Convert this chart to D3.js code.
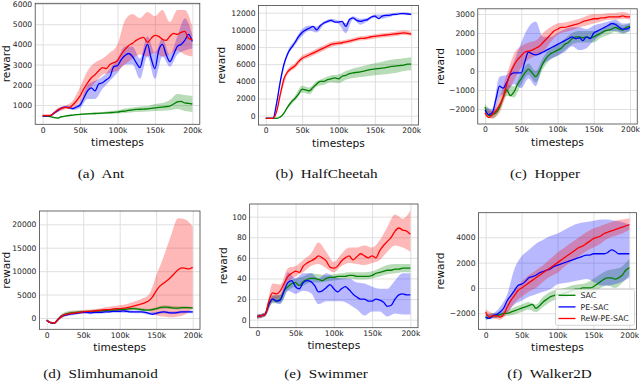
<!DOCTYPE html>
<html lang="en">
<head>
<meta charset="UTF-8">
<title>Reward curves</title>
<script src="https://d3js.org/d3.v7.min.js"></script>
<style>
  body { margin: 0; background: #fff; }
  svg { display: block; }
  .tick text { font-family: "DejaVu Sans", sans-serif; font-size: 7.6px; fill: #222; }
  .axis-title { font-family: "DejaVu Sans", sans-serif; font-size: 10.7px; fill: #111; }
  .caption { font-family: "Liberation Serif", "Times New Roman", serif; font-size: 13px; fill: #111; }
  .legend text { font-family: "DejaVu Sans", sans-serif; font-size: 7.8px; fill: #222; }
</style>
</head>
<body>
<svg id="chart" width="640" height="383"></svg>
<script>
// x positions in thousands of timesteps
const steps = [0,5,10,15,20,25,30,35,40,45,50,55,60,65,70,75,80,85,90,95,100,105,110,115,120,125,130,135,140,145,150,155,160,165,170,175,180,185,190,195,200];
const bandSteps = [0,10,20,30,40,50,60,70,80,90,100,110,120,130,140,150,160,170,180,190,200];
const xTicks = [0, 50, 100, 150, 200];

const seriesNames = ['SAC', 'PE-SAC', 'ReW-PE-SAC'];

// (a) Ant
const antSAC = [450,440,430,380,350,420,450,480,500,520,540,550,560,570,580,590,600,610,620,640,650,680,700,730,760,780,790,800,810,830,860,880,900,920,950,1050,1150,1180,1100,1080,1050];
const antSACLo = [430,410,320,420,470,510,520,530,550,560,580,600,640,650,680,700,720,740,800,700,650];
const antSACHi = [470,460,390,480,530,570,600,630,660,700,740,830,880,930,950,1050,1100,1250,1550,1500,1450];
const antPE = [450,460,470,600,720,850,900,880,820,900,1000,1350,1700,1850,1700,2050,2100,2250,2400,2900,2950,3250,3450,3550,3400,3100,2850,3500,4000,3300,2800,3700,4000,3500,3150,3500,3900,4000,4200,4500,4150];
const antPELo = [420,440,650,850,750,850,1300,1300,1800,2200,2600,3000,3000,2300,3400,2300,3400,2900,3500,3700,3800];
const antPEHi = [480,500,800,950,900,1150,2000,2200,2400,2800,3300,3900,3900,3300,4400,3600,4300,3500,4400,5300,4500];
const antReW = [480,480,480,600,750,820,880,850,1000,1200,1450,1800,2100,2350,2500,2700,2850,2800,3000,3100,3200,3500,3750,3950,4050,4200,4300,4350,4100,4300,4450,4400,4250,4200,4400,4550,4500,4600,4650,4300,4250];
const antReWLo = [450,450,650,780,850,1150,1700,2100,2500,2600,2700,3000,3300,3500,3400,3600,3400,3500,3700,3500,3400];
const antReWHi = [510,510,850,980,1200,1900,2700,3100,3300,3600,4000,5200,5500,5300,5600,5400,5700,5100,5700,5700,4900];
const antYTicks = [1000,2000,3000,4000,5000,6000];

// (b) HalfCheetah
const hcSAC = [-300,-300,-300,-300,-150,300,1000,1600,2000,2500,3100,3000,2900,3300,3700,4000,4000,4200,4300,4400,4300,4600,4700,4900,5000,5050,5100,5200,5300,5400,5450,5500,5550,5600,5700,5750,5800,5850,5900,6000,6000];
const hcSACLo = [-350,-350,-250,800,1700,2700,2500,3400,3600,3900,3800,4200,4400,4500,4600,4700,4800,4900,5000,5200,5300];
const hcSACHi = [-250,-250,-50,1200,2300,3500,3300,4000,4400,4700,4800,5200,5500,5700,5900,6100,6300,6500,6600,6700,6800];
const hcPE = [-300,-300,-300,1500,4000,6000,7200,7900,8500,9200,9700,10000,10200,10400,10000,10500,10800,11000,11100,10900,10900,11000,10400,11200,11400,11100,11000,11100,11200,11500,11600,11300,11600,11700,11700,11800,11800,11900,11900,11850,11800];
const hcPELo = [-350,-350,3700,6900,8200,9300,9900,9700,10600,10900,10700,9600,11200,10600,11000,11400,11300,11500,11700,11800,11700];
const hcPEHi = [-250,-250,4300,7500,8800,10100,10500,10400,11000,11300,11100,10800,11600,11300,11400,11800,11800,11900,12000,12050,11950];
const hcReW = [-300,-300,-300,500,2500,4300,5100,5500,5800,6300,6700,6900,7100,7300,7500,7700,7900,8100,8300,8400,8450,8500,8600,8700,8800,8900,9000,9000,9100,9200,9250,9300,9350,9400,9450,9500,9550,9600,9650,9600,9500];
const hcReWLo = [-350,-350,2200,4800,5500,6400,6800,7200,7600,8000,8200,8350,8550,8750,8850,9000,9100,9200,9300,9400,9300];
const hcReWHi = [-250,-250,2800,5400,6100,7000,7400,7800,8200,8600,8700,8850,9050,9250,9350,9500,9600,9700,9800,9950,9750];
const hcYTicks = [0,2000,4000,6000,8000,10000,12000];

// (c) Hopper
const hopSAC = [-1900,-2350,-2300,-2200,-1900,-1400,-1000,-1300,-1100,-700,-400,-100,100,-100,-300,0,400,700,900,1000,1100,1200,1400,1500,1700,1800,1800,1750,1800,1750,1800,1900,2000,2100,2150,2200,2300,2200,2150,2300,2350];
const hopSACLo = [-2100,-2500,-2100,-1300,-1400,-700,-200,-600,100,600,800,1100,1400,1500,1500,1500,1750,1900,2050,1950,2150];
const hopSACHi = [-1700,-2100,-1700,-700,-800,-100,400,0,700,1200,1400,1700,2000,2100,2100,2100,2250,2400,2550,2400,2550];
const hopPE = [-2050,-2300,-2200,-1500,-800,-900,-600,-200,-100,-100,-100,500,1000,900,850,900,1000,1100,1200,1300,1400,1500,1600,1700,1800,1700,1750,1600,1800,1700,2000,2100,2200,2300,2400,2500,2450,2300,2200,2200,2300];
const hopPELo = [-2200,-2400,-1400,-1100,-700,-900,-400,-800,300,600,800,1000,1300,1100,1200,1600,1900,2100,2100,2000,2100];
const hopPEHi = [-1900,-2000,-300,-200,500,1500,2300,2600,1800,1800,2000,2200,2300,2300,2200,2400,2500,2600,2700,2500,2500];
const hopReW = [-2200,-2450,-2300,-2100,-1800,-1400,-700,-100,300,600,800,1000,1050,1100,1200,1300,1500,1700,1900,2100,2200,2300,2300,2350,2400,2450,2500,2600,2650,2700,2750,2750,2800,2800,2850,2850,2850,2850,2900,2850,2850];
const hopReWLo = [-2400,-2500,-2200,-1200,-500,200,600,800,1000,1500,1900,2050,2150,2300,2400,2500,2600,2700,2700,2750,2700];
const hopReWHi = [-2000,-2100,-1400,-200,900,1300,1500,1600,2000,2300,2500,2550,2650,2750,2900,3000,3000,3050,3050,3100,3000];
const hopYTicks = [-2000,-1000,0,1000,2000,3000];

// (d) Slimhumanoid
const shSAC = [-500,-1000,-1100,-400,400,800,1000,1100,1200,1250,1300,1350,1400,1450,1500,1550,1600,1650,1700,1750,1800,1850,1900,2000,2000,1900,1800,1700,1700,1800,2000,2200,2300,2300,2200,2100,2100,2200,2200,2200,2100];
const shSACLo = [-700,-1300,0,700,900,1000,1100,1200,1300,1400,1500,1600,1700,1500,1400,1700,1900,1900,1800,1900,1800];
const shSACHi = [-300,-900,800,1500,1600,1600,1700,1800,1900,2000,2100,2200,2300,2100,2000,2300,2700,2600,2500,2500,2400];
const shPE = [-500,-1000,-1100,-300,300,600,800,900,1000,1100,1200,1200,1100,1200,1200,1200,1300,1300,1400,1400,1400,1500,1400,1300,1300,1300,1300,1200,1000,800,1000,1200,1300,1200,1100,1100,1200,1300,1300,1300,1300];
const shPELo = [-700,-1300,0,500,700,900,800,900,1000,1100,1100,1100,1000,1000,700,700,1000,800,900,1000,1000];
const shPEHi = [-300,-900,600,1100,1300,1500,1400,1500,1600,1700,1700,1700,1600,1600,1300,1300,1600,1400,1500,1600,1600];
const shReW = [-500,-1000,-1100,-400,300,700,900,1000,1100,1200,1300,1400,1400,1500,1600,1700,1800,1800,1900,2000,2000,2100,2200,2400,2600,2800,3000,3300,3700,4500,5800,6800,7400,8000,8700,9500,10300,10700,10600,10500,10800];
const shReWLo = [-700,-1300,0,600,800,1000,1100,1200,1400,1500,1500,1600,1800,1800,1500,600,300,100,300,800,2200];
const shReWHi = [-300,-900,700,1300,1500,1700,1800,2000,2300,2500,2700,3000,3500,4100,5000,9000,13000,17500,21300,21000,19500];
const shYTicks = [0,5000,10000,15000,20000];

// (e) Swimmer
const swSAC = [3,4,5,15,20,18,20,28,32,35,36,33,37,39,40,40,39,38,40,41,41,42,42,42,43,43,42,42,42,42,43,45,46,47,48,48,49,49,50,50,50];
const swSACLo = [1,3,16,16,28,32,33,36,36,37,38,39,40,39,39,40,42,44,45,46,46];
const swSACHi = [5,7,24,24,36,40,42,45,44,43,44,45,46,46,46,47,50,53,54,54,54];
const swPE = [3,4,5,15,20,18,19,28,36,38,32,30,36,38,37,33,27,28,31,34,30,27,30,32,29,25,22,20,20,18,18,20,19,17,13,14,20,24,25,24,24];
const swPELo = [1,3,17,15,28,25,28,26,15,18,18,18,15,10,4,8,8,3,6,5,5];
const swPEHi = [5,7,23,24,46,40,45,45,40,45,42,40,40,36,35,32,30,30,38,45,45];
const swReW = [3,4,5,18,26,25,28,35,42,45,47,46,52,55,57,59,62,60,57,51,50,52,57,60,62,58,61,64,62,60,62,60,67,72,76,80,86,89,87,86,83];
const swReWLo = [1,3,18,22,36,42,46,52,54,50,46,52,55,54,53,55,58,66,72,70,66];
const swReWHi = [5,7,35,34,50,52,58,64,75,66,56,64,70,70,72,70,77,90,102,98,106];
const swYTicks = [0,20,40,60,80,100];

// (f) Walker2D
const wkSAC = [-2300,-2400,-2200,-2150,-2100,-2000,-2000,-1900,-1800,-1700,-1600,-1500,-1400,-1300,-1600,-1400,-1100,-900,-700,-600,-500,-500,-400,-300,-200,-100,-100,0,0,0,100,300,500,700,800,800,700,800,1000,1400,1600];
const wkSACLo = [-2500,-2400,-2300,-2200,-2100,-1900,-1700,-1900,-1500,-1100,-900,-800,-600,-500,-400,-400,0,200,0,400,1000];
const wkSACHi = [-2100,-2000,-1900,-1800,-1500,-1300,-1100,-1300,-700,-300,-100,0,200,300,400,700,1100,1400,1500,1700,2300];
const wkPE = [-2300,-2400,-2200,-2100,-1900,-1600,-1000,-600,-200,200,300,500,800,900,1000,1200,1300,1400,1500,1700,1800,1900,2000,2100,2200,2300,2400,2500,2600,2600,2700,2700,2700,2700,2800,3000,2900,2700,2700,2700,2700];
const wkPELo = [-2500,-2400,-2300,-1900,-1300,-1000,-700,-500,-300,-100,300,400,500,600,700,500,200,200,300,500,800];
const wkPEHi = [-2100,-2000,-1500,-500,1500,2500,3000,3500,3800,4100,4300,4600,4900,5100,5200,5300,5400,5400,5300,5200,5000];
const wkReW = [-1900,-2300,-2200,-2200,-2300,-2100,-1500,-1000,-600,-200,0,200,400,600,800,1000,1200,1400,1600,1800,2000,2200,2400,2600,2800,3000,3200,3300,3500,3700,3900,4000,4100,4300,4400,4500,4600,4700,4800,4900,5000];
const wkReWLo = [-2200,-2400,-2500,-2000,-1200,-700,-300,0,500,900,1200,1700,2100,2500,2900,3200,3500,3900,4100,4300,4600];
const wkReWHi = [-1700,-2000,-2100,-1200,-200,500,1000,1400,1800,2300,2800,3200,3600,4000,4400,4700,4900,5100,5300,5400,5500];
const wkYTicks = [-2000,0,2000,4000];

const colors = ['#008000', '#0000ff', '#ff0000'];

// layout: plot box in pixels [left, right, top, bottom], y domain, caption position
const panels = [
  { box: [35.2, 199.8, 3.3, 124.3], yDomain: [45, 6035], yTicks: antYTicks, caption: '(a)  Ant', cap: [101, 173], labelX: 6,
    series: [[antSAC, antSACLo, antSACHi], [antPE, antPELo, antPEHi], [antReW, antReWLo, antReWHi]] },
  { box: [258.5, 418.5, 5.5, 125], yDomain: [-1083, 12839], yTicks: hcYTicks, caption: '(b)  HalfCheetah', cap: [326.5, 173], labelX: 221,
    series: [[hcSAC, hcSACLo, hcSACHi], [hcPE, hcPELo, hcPEHi], [hcReW, hcReWLo, hcReWHi]] },
  { box: [477.75, 637.25, 8.8, 124], yDomain: [-2789, 3274], yTicks: hopYTicks, caption: '(c)  Hopper', cap: [545, 173], labelX: 440,
    series: [[hopSAC, hopSACLo, hopSACHi], [hopPE, hopPELo, hopPEHi], [hopReW, hopReWLo, hopReWHi]] },
  { box: [39.4, 200, 211, 329.3], yDomain: [-2412, 22839], yTicks: shYTicks, caption: '(d)  Slimhumanoid', cap: [100.5, 373], labelX: 6.5,
    series: [[shSAC, shSACLo, shSACHi], [shPE, shPELo, shPEHi], [shReW, shReWLo, shReWHi]] },
  { box: [249.65, 418, 204, 327.7], yDomain: [-7.8, 112.3], yTicks: swYTicks, caption: '(e)  Swimmer', cap: [326, 373], labelX: 223,
    series: [[swSAC, swSACLo, swSACHi], [swPE, swPELo, swPEHi], [swReW, swReWLo, swReWHi]] },
  { box: [478.5, 636.5, 212.7, 329.3], yDomain: [-3263, 5942], yTicks: wkYTicks, caption: '(f)  Walker2D', cap: [549.5, 373], labelX: 440,
    series: [[wkSAC, wkSACLo, wkSACHi], [wkPE, wkPELo, wkPEHi], [wkReW, wkReWLo, wkReWHi]], legend: true }
];

const svg = d3.select('#chart');
const fmtY = d => (d < 0 ? '\u2212' + Math.abs(d) : String(d));
const fmtX = d => (d === 0 ? '0' : d + 'k');

panels.forEach((p, pi) => {
  const [left, right, top, bottom] = p.box;
  const x = d3.scaleLinear().domain([-10, 210]).range([left, right]);
  const y = d3.scaleLinear().domain(p.yDomain).range([bottom, top]);
  const g = svg.append('g');

  g.append('clipPath').attr('id', 'clip' + pi)
    .append('rect').attr('x', left).attr('y', top).attr('width', right - left).attr('height', bottom - top);

  // grid + tick labels
  const xAxis = d3.axisBottom(x).tickValues(xTicks).tickFormat(fmtX).tickSize(-(bottom - top)).tickPadding(3);
  const yAxis = d3.axisLeft(y).tickValues(p.yTicks).tickFormat(fmtY).tickSize(-(right - left)).tickPadding(3);
  g.append('g').attr('transform', `translate(0,${bottom})`).call(xAxis);
  g.append('g').attr('transform', `translate(${left},0)`).call(yAxis);
  g.selectAll('.domain').remove();
  g.selectAll('.tick line').attr('stroke', '#dcdcdc').attr('stroke-width', 0.9);

  const plot = g.append('g').attr('clip-path', `url(#clip${pi})`);

  const area = d3.area()
    .x((d, i) => x(bandSteps[i]))
    .y0(d => y(d[0]))
    .y1(d => y(d[1]))
    .curve(d3.curveMonotoneX);
  const line = d3.line()
    .x((d, i) => x(steps[i]))
    .y(d => y(d))
    .curve(d3.curveMonotoneX);

  p.series.forEach((s, si) => {
    plot.append('path')
      .attr('d', area(d3.zip(s[1], s[2])))
      .attr('fill', colors[si])
      .attr('fill-opacity', 0.28)
      .attr('stroke', 'none');
  });
  p.series.forEach((s, si) => {
    plot.append('path')
      .attr('d', line(s[0]))
      .attr('fill', 'none')
      .attr('stroke', colors[si])
      .attr('stroke-width', 1.3);
  });

  g.append('rect')
    .attr('x', left).attr('y', top)
    .attr('width', right - left).attr('height', bottom - top)
    .attr('fill', 'none').attr('stroke', '#444').attr('stroke-width', 0.8);

  g.append('text').attr('class', 'axis-title')
    .attr('text-anchor', 'middle')
    .attr('transform', `translate(${p.labelX},${(top + bottom) / 2}) rotate(-90)`)
    .attr('dy', '0.35em')
    .text('reward');

  g.append('text').attr('class', 'axis-title')
    .attr('text-anchor', 'middle')
    .attr('x', x(100)).attr('y', bottom + 18)
    .attr('dy', '0.35em')
    .text('timesteps');

  // caption text is drawn a bit wider than the serif font's natural width
  g.append('text').attr('class', 'caption')
    .attr('text-anchor', 'middle')
    .attr('transform', `translate(${p.cap[0]},${p.cap[1]}) scale(1.17,1)`)
    .attr('dy', '0.35em')
    .attr('xml:space', 'preserve')
    .text(p.caption);

  if (p.legend) {
    const lg = g.append('g').attr('class', 'legend');
    lg.append('rect')
      .attr('x', right - 81).attr('y', bottom - 40)
      .attr('width', 79).attr('height', 36)
      .attr('rx', 2)
      .attr('fill', '#fff').attr('fill-opacity', 0.8)
      .attr('stroke', '#cccccc').attr('stroke-width', 0.8);
    seriesNames.forEach((name, i) => {
      const ly = bottom - 34 + i * 11.6;
      lg.append('line')
        .attr('x1', right - 78).attr('x2', right - 61)
        .attr('y1', ly).attr('y2', ly)
        .attr('stroke', colors[i]).attr('stroke-width', 1.3);
      lg.append('text')
        .attr('x', right - 56).attr('y', ly)
        .attr('dy', '0.35em')
        .text(name);
    });
  }
});
</script>
</body>
</html>
